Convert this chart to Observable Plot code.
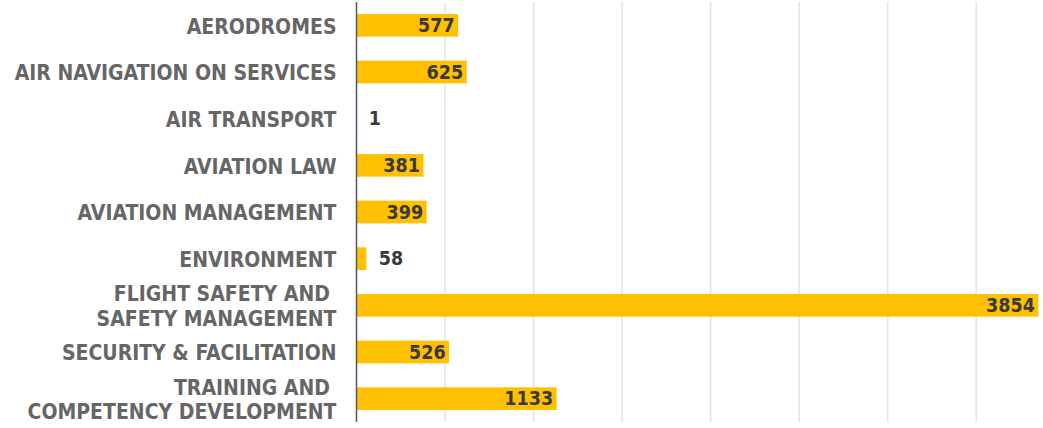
<!DOCTYPE html>
<html>
<head>
<meta charset="utf-8">
<script src="https://cdn.jsdelivr.net/npm/d3@7"></script>
<script src="https://cdn.jsdelivr.net/npm/@observablehq/plot@0.6"></script>
<style>
  body { margin: 0; background: #fff; }
  #chart svg { display: block; }
</style>
</head>
<body>
<div id="chart"></div>
<script>
const categories = [
  "AERODROMES",
  "AIR NAVIGATION ON SERVICES",
  "AIR TRANSPORT",
  "AVIATION LAW",
  "AVIATION MANAGEMENT",
  "ENVIRONMENT",
  "FLIGHT SAFETY AND\u00a0\nSAFETY MANAGEMENT",
  "SECURITY & FACILITATION",
  "TRAINING AND\u00a0\nCOMPETENCY DEVELOPMENT"
];
const values = [577, 625, 1, 381, 399, 58, 3854, 526, 1133];
const gridTicks = [500, 1000, 1500, 2000, 2500, 3000, 3500];

const data = categories.map((c, i) => ({category: c, value: values[i]}));
const font = "'DejaVu Sans Condensed', 'Liberation Sans Narrow', sans-serif";

const chart = Plot.plot({
  width: 1043,
  height: 428,
  marginLeft: 356,
  marginRight: 0,
  marginTop: 2,
  marginBottom: 6,
  style: {fontFamily: font, background: "#fff"},
  x: {domain: [0, 3880], axis: null},
  y: {domain: categories, padding: 0, round: false, label: null},
  marks: [
    Plot.ruleX(gridTicks, {stroke: "#e3e3e3", strokeWidth: 1.5}),
    Plot.barX(data, {x: "value", y: "category", fill: "#FFC000", insetTop: 12, insetBottom: 12}),
    Plot.ruleX([0], {stroke: "#50566e", strokeWidth: 1.5}),
    Plot.text(data.filter(d => d.value >= 100), {
      x: "value", y: "category", text: d => String(d.value),
      textAnchor: "end", dx: -4, fill: "#3a3a3a", fontSize: 19.5, fontWeight: "bold"
    }),
    Plot.text(data.filter(d => d.value < 100), {
      x: "value", y: "category", text: d => String(d.value),
      textAnchor: "start", dx: 12, fill: "#3a3a3a", fontSize: 19.5, fontWeight: "bold"
    }),
    Plot.axisY({
      tickSize: 0, tickPadding: 20, fontSize: 21, fontWeight: "bold",
      fill: "#666666", lineHeight: 1.15, label: null
    })
  ]
});
document.getElementById("chart").appendChild(chart);
</script>
</body>
</html>
